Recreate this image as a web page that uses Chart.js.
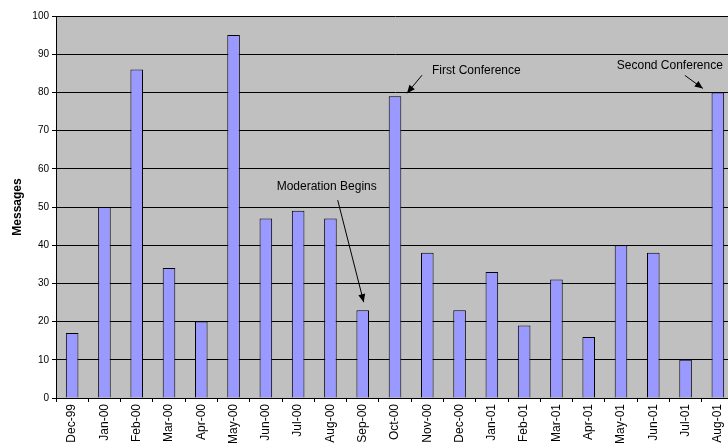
<!DOCTYPE html>
<html>
<head>
<meta charset="utf-8">
<script src="https://cdn.jsdelivr.net/npm/chart.js@4/dist/chart.umd.min.js"></script>
<style>
  html, body { margin: 0; padding: 0; background: #fff; overflow: hidden; }
  #wrap { width: 728px; height: 448px; overflow: hidden; }
</style>
</head>
<body>
<div id="wrap"><canvas id="chart" width="740" height="448"></canvas></div>
<script>
// monthly message counts
const months = ["Dec-99", "Jan-00", "Feb-00", "Mar-00", "Apr-00", "May-00", "Jun-00", "Jul-00",
  "Aug-00", "Sep-00", "Oct-00", "Nov-00", "Dec-00", "Jan-01", "Feb-01", "Mar-01", "Apr-01",
  "May-01", "Jun-01", "Jul-01", "Aug-01"];
const messages = [17, 50, 86, 34, 20, 95, 47, 49, 47, 23, 79, 38, 23, 33, 19, 31, 16, 40, 38, 10, 80];

// notes pointing at bars
const noteLabels = ["Moderation Begins", "First Conference", "Second Conference"];
const noteMonths = ["Sep-00", "Oct-00", "Aug-01"];

const FONT = "'Liberation Sans', Arial, sans-serif";

// pixel offsets of tip / tail / text relative to bar top (styling only)
const noteStyle = [
  { tip: [1, -8], tail: [-25, -110], text: [-36, -123], align: "center" },
  { tip: [12, -3], tail: [27, -21], text: [37, -26], align: "left" },
  { tip: [-15, -4], tail: [-33, -17], text: [-48, -27], align: "center" }
];

const plotBg = {
  id: "plotBg",
  beforeDraw(chart) {
    const { ctx, chartArea: a } = chart;
    ctx.save();
    ctx.fillStyle = "#C0C0C0";
    ctx.fillRect(a.left, a.top, a.right - a.left, a.bottom - a.top);
    ctx.restore();
  }
};

const notes = {
  id: "notes",
  afterDatasetsDraw(chart) {
    const ctx = chart.ctx;
    const bars = chart.getDatasetMeta(0).data;
    ctx.save();
    ctx.font = "12px " + FONT;
    ctx.fillStyle = "#000";
    ctx.strokeStyle = "#000";
    ctx.lineWidth = 1;
    noteLabels.forEach((label, i) => {
      const bar = bars[months.indexOf(noteMonths[i])];
      const s = noteStyle[i];
      const tx = bar.x + s.tip[0], ty = bar.y + s.tip[1];
      const fx = bar.x + s.tail[0], fy = bar.y + s.tail[1];
      ctx.beginPath();
      ctx.moveTo(fx, fy);
      ctx.lineTo(tx, ty);
      ctx.stroke();
      const ang = Math.atan2(ty - fy, tx - fx);
      const len = 8, half = 3.5;
      ctx.beginPath();
      ctx.moveTo(tx, ty);
      ctx.lineTo(tx - len * Math.cos(ang) + half * Math.sin(ang), ty - len * Math.sin(ang) - half * Math.cos(ang));
      ctx.lineTo(tx - len * Math.cos(ang) - half * Math.sin(ang), ty - len * Math.sin(ang) + half * Math.cos(ang));
      ctx.closePath();
      ctx.fill();
      ctx.textAlign = s.align;
      ctx.textBaseline = "middle";
      ctx.fillText(label, bar.x + s.text[0], bar.y + s.text[1]);
    });
    ctx.restore();
  }
};

new Chart(document.getElementById("chart"), {
  type: "bar",
  data: {
    labels: months,
    datasets: [{
      data: messages,
      backgroundColor: "#9999FF",
      borderColor: "#000",
      borderWidth: 1,
      barPercentage: 0.39,
      categoryPercentage: 1
    }]
  },
  options: {
    responsive: false,
    animation: false,
    layout: { padding: { top: 16, right: 6, left: 0, bottom: 0 } },
    plugins: { legend: { display: false }, tooltip: { enabled: false } },
    scales: {
      x: {
        offset: true,
        grid: { display: true, drawOnChartArea: false, drawTicks: true, tickLength: 4, color: "#000", offset: true },
        border: { color: "#000" },
        ticks: {
          autoSkip: false, minRotation: 90, maxRotation: 90, padding: 2,
          color: "#000", font: { family: FONT, size: 12 }
        },
        afterFit(scale) { scale.height = 50; }
      },
      y: {
        min: 0, max: 100,
        grid: { color: "#000", tickLength: 4 },
        border: { color: "#000" },
        ticks: { stepSize: 10, padding: 3, color: "#000", font: { family: FONT, size: 10 } },
        title: {
          display: true, text: "Messages", color: "#000",
          font: { family: FONT, size: 12, weight: "bold" },
          padding: { top: 10, bottom: 0 }
        },
        afterFit(scale) { scale.width = 56; }
      }
    }
  },
  plugins: [plotBg, notes]
});
</script>
</body>
</html>
